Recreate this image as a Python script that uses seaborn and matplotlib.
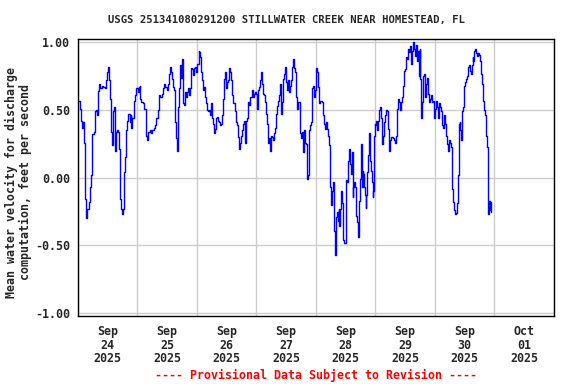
import pandas as pd
import matplotlib
matplotlib.use("Agg")
import matplotlib.pyplot as plt
import seaborn as sns

# hours after 2025-09-24 00:00 and velocity (ft/s)
hours = [
    0.0, 0.67, 1.07, 1.75, 2.01, 2.42, 2.82, 3.36, 3.76, 4.30, 4.70, 5.10, 5.51, 5.77,
    6.31, 6.85, 7.39, 7.79, 8.19, 8.46, 9.00, 9.54, 10.07, 10.74, 11.42, 11.82, 12.09,
    12.49, 12.76, 13.16, 13.43, 13.70, 13.97, 14.37, 14.77, 15.04, 15.44, 15.85, 16.25,
    16.52, 16.79, 17.06, 17.46, 17.73, 18.13, 18.40, 18.67, 19.07, 19.47, 19.88, 20.28,
    20.82, 21.22, 21.49, 21.89, 22.43, 22.97, 23.50, 24.04, 24.58, 24.85, 25.11, 25.52,
    26.19, 26.73, 27.26, 27.53, 27.93, 28.34, 28.87, 29.41, 29.95, 30.49, 31.02, 31.56,
    32.10, 32.64, 33.17, 33.71, 34.25, 34.78, 35.19, 35.72, 36.26, 36.66, 37.07, 37.60,
    38.01, 38.41, 38.81, 39.22, 39.62, 39.89, 40.29, 40.69, 41.10, 41.50, 41.90, 42.31,
    42.71, 43.11, 43.51, 43.92, 44.32, 44.72, 45.13, 45.53, 45.93, 46.33, 46.74, 47.14,
    47.54, 47.95, 48.62, 48.89, 49.29, 49.69, 50.09, 50.50, 50.90, 51.30, 51.71, 52.11,
    52.51, 52.91, 53.32, 53.72, 54.12, 54.53, 54.93, 55.33, 55.74, 56.14, 56.54, 56.94,
    57.35, 57.75, 58.15, 58.56, 58.96, 59.36, 59.76, 60.17, 60.57, 60.97, 61.38, 61.78,
    62.18, 62.58, 62.99, 63.39, 63.79, 64.20, 64.60, 65.00, 65.40, 65.81, 66.21, 66.61,
    67.02, 67.42, 67.82, 68.22, 68.63, 69.03, 69.43, 69.84, 70.24, 70.64, 71.05, 71.45,
    71.85, 72.39, 72.79, 73.19, 73.60, 74.00, 74.40, 74.80, 75.21, 75.61, 76.01, 76.42,
    76.82, 77.22, 77.63, 78.03, 78.43, 78.83, 79.24, 79.64, 80.04, 80.45, 80.85, 81.25,
    81.65, 82.06, 82.46, 82.86, 83.27, 83.67, 84.07, 84.48, 84.88, 85.28, 85.68, 86.09,
    86.49, 86.89, 87.30, 87.70, 88.10, 88.51, 88.91, 89.43, 89.83, 90.24, 90.64, 91.04,
    91.44, 91.84, 92.25, 92.65, 93.05, 93.45, 93.86, 94.26, 94.66, 95.06, 95.46, 95.87,
    96.27, 96.67, 97.07, 97.47, 97.88, 98.28, 98.68, 99.08, 99.49, 99.89, 100.29, 100.69,
    101.09, 101.50, 101.76, 102.17, 102.43, 102.84, 103.10, 103.37, 103.64, 103.91,
    104.18, 104.44, 104.85, 105.12, 105.38, 105.65, 105.92, 106.19, 106.46, 106.72,
    106.99, 107.39, 107.66, 107.93, 108.20, 108.60, 109.00, 109.27, 109.67, 110.08,
    110.48, 110.75, 111.01, 111.28, 111.55, 111.95, 112.22, 112.62, 112.89, 113.16,
    113.43, 113.69, 113.96, 114.23, 114.50, 114.77, 115.03, 115.44, 115.84, 116.11,
    116.37, 116.64, 116.91, 117.18, 117.45, 117.85, 118.25, 118.65, 118.92, 119.19,
    119.46, 119.73, 119.99, 120.40, 120.80, 121.20, 121.60, 122.01, 122.41, 122.68,
    122.94, 123.35, 123.75, 124.15, 124.56, 124.96, 125.36, 125.76, 126.16, 126.56,
    126.97, 127.37, 127.77, 128.17, 128.58, 128.98, 129.38, 129.78, 130.18, 130.59,
    130.99, 131.39, 131.79, 132.19, 132.60, 133.00, 133.40, 133.80, 134.20, 134.61,
    135.01, 135.41, 135.81, 136.21, 136.62, 137.02, 137.42, 137.82, 138.09, 138.36,
    138.63, 139.03, 139.43, 139.83, 140.23, 140.64, 141.04, 141.44, 141.84, 142.24,
    142.65, 143.05, 143.45, 143.85, 144.26, 144.66, 145.06, 145.46, 145.86, 146.27,
    146.67, 147.07, 147.47, 147.88, 148.28, 148.68, 149.08, 149.48, 149.89, 150.29,
    150.69, 150.96, 151.23, 151.63, 152.03, 152.43, 152.83, 153.10, 153.37, 153.64,
    153.91, 154.17, 154.44, 154.71, 154.98, 155.25, 155.52, 155.92, 156.32, 156.72,
    157.13, 157.53, 157.93, 158.33, 158.73, 159.14, 159.40, 159.81, 160.21, 160.61,
    161.01, 161.42, 161.82, 162.22, 162.63, 163.03, 163.43, 163.83, 164.24, 164.64,
    165.04, 165.31, 165.58, 165.84, 166.11, 166.38, 166.52,
]
velocity = [
    0.57, 0.51, 0.42, 0.37, 0.41, 0.26, -0.16, -0.30, -0.23, -0.18, -0.07, 0.02, 0.12, 0.32,
    0.34, 0.49, 0.50, 0.46, 0.64, 0.69, 0.66, 0.68, 0.67, 0.66, 0.72, 0.78, 0.82,
    0.72, 0.58, 0.52, 0.34, 0.24, 0.49, 0.52, 0.44, 0.20, 0.34, 0.35, 0.34,
    0.21, 0.07, -0.16, -0.23, -0.27, -0.23, -0.16, 0.04, 0.15, 0.35, 0.42, 0.47,
    0.41, 0.46, 0.37, 0.44, 0.57, 0.61, 0.66, 0.63, 0.67, 0.68, 0.58, 0.56,
    0.55, 0.51, 0.42, 0.31, 0.28, 0.34, 0.35, 0.33, 0.35, 0.37, 0.39, 0.44,
    0.50, 0.61, 0.60, 0.62, 0.66, 0.69, 0.67, 0.65, 0.69, 0.77, 0.82, 0.78,
    0.73, 0.67, 0.65, 0.41, 0.29, 0.20, 0.52, 0.66, 0.83, 0.74, 0.88, 0.55,
    0.54, 0.63, 0.60, 0.63, 0.66, 0.61, 0.66, 0.81, 0.80, 0.76, 0.81, 0.82,
    0.78, 0.84, 0.94, 0.93, 0.89, 0.78, 0.72, 0.65, 0.67, 0.60, 0.55, 0.50,
    0.49, 0.50, 0.46, 0.55, 0.44, 0.40, 0.33, 0.36, 0.44, 0.45, 0.42, 0.41,
    0.39, 0.40, 0.46, 0.58, 0.73, 0.78, 0.66, 0.71, 0.72, 0.81, 0.78, 0.72,
    0.61, 0.55, 0.55, 0.49, 0.41, 0.39, 0.30, 0.21, 0.26, 0.31, 0.35, 0.40,
    0.42, 0.26, 0.42, 0.44, 0.56, 0.54, 0.60, 0.60, 0.65, 0.60, 0.62, 0.63,
    0.62, 0.51, 0.65, 0.67, 0.72, 0.78, 0.69, 0.62, 0.61, 0.56, 0.47, 0.40,
    0.26, 0.29, 0.20, 0.31, 0.30, 0.28, 0.33, 0.37, 0.47, 0.53, 0.57, 0.61,
    0.69, 0.47, 0.56, 0.73, 0.77, 0.82, 0.71, 0.65, 0.72, 0.63, 0.68, 0.72,
    0.82, 0.88, 0.81, 0.78, 0.60, 0.51, 0.56, 0.33, 0.29, 0.34, 0.19, 0.35,
    0.26, 0.25, -0.01, 0.02, 0.35, 0.39, 0.41, 0.66, 0.68, 0.60, 0.65, 0.81,
    0.78, 0.67, 0.55, 0.57, 0.57, 0.56, 0.46, 0.40, 0.36, 0.41, 0.36, 0.31,
    0.24, 0.23, -0.07, -0.20, -0.10, -0.03, -0.22, -0.39, -0.57, -0.43,
    -0.29, -0.25, -0.32, -0.23, -0.36, -0.23, -0.17, -0.10, -0.19, -0.30,
    -0.46, -0.48, -0.48, -0.33, -0.02, -0.03, 0.12, 0.21, 0.10, 0.03,
    0.19, -0.14, -0.07, -0.03, -0.07, -0.19, -0.28, -0.33, -0.44, -0.33,
    -0.17, -0.01, 0.04, 0.25, -0.07, 0.05, 0.03, -0.07, -0.13, -0.22,
    -0.13, 0.04, 0.17, 0.30, 0.33, 0.12, 0.05, -0.03, -0.14, -0.10,
    0.31, 0.40, 0.39, 0.42, 0.35, 0.42, 0.50, 0.52, 0.44, 0.25,
    0.31, 0.41, 0.46, 0.50, 0.49, 0.36, 0.20, 0.28, 0.30, 0.30,
    0.29, 0.28, 0.26, 0.31, 0.51, 0.58, 0.56, 0.50, 0.56, 0.60,
    0.68, 0.79, 0.80, 0.89, 0.88, 0.95, 0.93, 0.97, 0.84, 0.94,
    1.00, 0.95, 0.90, 0.98, 0.86, 0.94, 0.75, 0.95, 0.73, 0.44,
    0.56, 0.75, 0.77, 0.60, 0.69, 0.74, 0.62, 0.56, 0.58, 0.61,
    0.56, 0.57, 0.44, 0.51, 0.57, 0.52, 0.44, 0.55, 0.52, 0.49,
    0.39, 0.37, 0.46, 0.40, 0.31, 0.25, 0.20, 0.28, 0.26, 0.23,
    0.02, -0.08, -0.18, -0.24, -0.27, -0.26, -0.19, -0.12, 0.02, 0.40,
    0.41, 0.35, 0.28, 0.37, 0.49, 0.52, 0.68, 0.71, 0.73, 0.75,
    0.82, 0.83, 0.79, 0.77, 0.83, 0.89, 0.86, 0.94, 0.95, 0.92,
    0.90, 0.92, 0.91, 0.86, 0.77, 0.69, 0.57, 0.50, 0.46, 0.31,
    0.23, -0.04, -0.27, -0.17, -0.24, -0.18, -0.25,
]

day_labels = ["Sep\n24\n2025", "Sep\n25\n2025", "Sep\n26\n2025", "Sep\n27\n2025",
              "Sep\n28\n2025", "Sep\n29\n2025", "Sep\n30\n2025", "Oct\n01\n2025"]
y_ticks = [-1.0, -0.5, 0.0, 0.5, 1.0]

start = pd.Timestamp("2025-09-24")
df = pd.DataFrame({
    "time": start + pd.to_timedelta(hours, unit="h"),
    "velocity": velocity,
})

sns.set_style("white")
plt.rcParams["font.family"] = ["DejaVu Sans Mono"]
plt.rcParams["font.weight"] = "bold"

fig = plt.figure(figsize=(5.76, 3.84), dpi=100)
ax = fig.add_axes([0.1354, 0.177, 0.8264, 0.721])

sns.lineplot(data=df, x="time", y="velocity", ax=ax, color="#0000ff",
             linewidth=1.0, drawstyle="steps-post", estimator=None, sort=False)

ax.set_xlim(start, start + pd.Timedelta(days=8))
ax.set_ylim(-1.022, 1.024)

# gridlines at midnight, labels at noon
midnights = pd.date_range(start, periods=9, freq="D")
noons = midnights[:-1] + pd.Timedelta(hours=12)
ax.set_xticks(midnights)
ax.set_xticklabels([])
ax.set_xticks(noons, minor=True)
ax.set_xticklabels(day_labels, minor=True, fontsize=8.4, fontweight="bold")
for lbl in ax.get_xticklabels(minor=True):
    lbl.set_linespacing(1.05)
ax.set_yticks(y_ticks)
ax.set_yticklabels([f"{v:.2f}" for v in y_ticks], fontsize=8.4, fontweight="bold")
ax.tick_params(axis="x", which="both", length=0, pad=6.5)
ax.tick_params(axis="y", length=0, pad=5.5)

ax.grid(True, which="major", color="#cccccc", linewidth=1.0)
ax.set_axisbelow(True)
for s in ax.spines.values():
    s.set_color("black")
    s.set_linewidth(1.0)

ax.set_xlabel("")
ax.set_ylabel("")
fig.text(0.032, 0.526, "Mean water velocity for discharge\ncomputation, feet per second",
         rotation=90, ha="center", va="center", multialignment="center",
         fontsize=8.4, fontweight="bold", linespacing=1.1)

fig.text(0.497, 0.948, "USGS 251341080291200 STILLWATER CREEK NEAR HOMESTEAD, FL",
         ha="center", va="center", fontsize=7.6, fontweight="bold")
fig.text(0.549, 0.023, "---- Provisional Data Subject to Revision ----",
         ha="center", va="center", fontsize=8.4, fontweight="bold", color="#ff0000")

fig.savefig("out.png", dpi=100)
